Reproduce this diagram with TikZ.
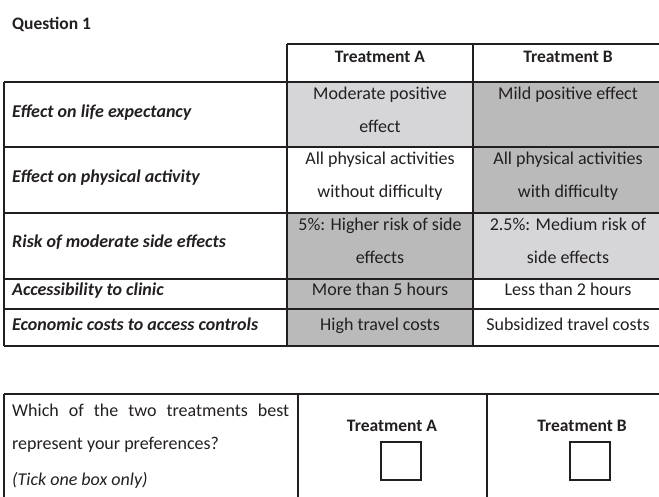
\documentclass[tikz,border=0pt]{standalone}
\usepackage{fontspec}
\setmainfont{Carlito}
\definecolor{lightcell}{RGB}{214,214,216}
\definecolor{darkcell}{RGB}{186,186,187}
\definecolor{ink}{RGB}{35,31,32}
\tikzset{
	grid line/.style={line width=1.3pt, ink},
	celltext/.style={font=\fontsize{18}{33}\selectfont, align=center, inner sep=0pt, anchor=base, text=ink},
	rowlabel/.style={font=\fontsize{18}{21}\selectfont\bfseries\itshape, inner sep=0pt, anchor=base west, text=ink},
	headtext/.style={font=\fontsize{17.5}{21}\selectfont\bfseries, inner sep=0pt, anchor=base, text=ink},
	tickbox/.style={draw=ink, line width=2pt, minimum width=40pt, minimum height=38pt, inner sep=0pt},
}

\begin{document}
\begin{tikzpicture}[x=1pt,y=-1pt]
	\useasboundingbox (0,0) rectangle (659,496);
	\node[headtext, anchor=base west] (title) at (12,29) {Question 1};
	% shaded cells
	\fill[lightcell] (287,82) rectangle (473,147);
	\fill[darkcell] (473,82) rectangle (663,213);
	\fill[darkcell] (287,213) rectangle (473,346);
	\fill[lightcell] (473,213) rectangle (663,279);
	% attribute table
	\draw[grid line] (287,44) -- (663,44);
	\foreach \y in {82,147,213,279,309,346}
		\draw[grid line] (4,\y) -- (663,\y);
	\draw[grid line] (4,82) -- (4,346);
	\foreach \x in {287,473}
		\draw[grid line] (\x,44) -- (\x,346);
	\node[headtext] (headA) at (380,62) {Treatment A};
	\node[headtext] (headB) at (568,62) {Treatment B};
	\foreach \name/\y/\txt in {life/117/Effect on life expectancy,
		activity/182/Effect on physical activity,
		risk/247/Risk of moderate side effects,
		clinic/295/Accessibility to clinic,
		costs/330/Economic costs to access controls}
		\node[rowlabel] (\name) at (12,\y) {\txt};
	% two-line cells sit on the baseline of their last line
	\node[celltext] (a1) at (380,132) {Moderate positive\\effect};
	\node[celltext] (b1) at (568,99) {Mild positive effect};
	\node[celltext] (a2) at (380,197) {All physical activities\\without difficulty};
	\node[celltext] (b2) at (568,197) {All physical activities\\with difficulty};
	\node[celltext] (a3) at (380,263) {5\%: Higher risk of side\\effects};
	\node[celltext] (b3) at (568,263) {2.5\%: Medium risk of\\side effects};
	\node[celltext] (a4) at (380,295) {More than 5 hours};
	\node[celltext] (b4) at (568,295) {Less than 2 hours};
	\node[celltext] (a5) at (380,330) {High travel costs};
	\node[celltext] (b5) at (568,330) {Subsidized travel costs};
	% choice table
	\draw[grid line] (4,394) -- (677,394);
	\foreach \x in {4,298,487}
		\draw[grid line] (\x,394) -- (\x,500);
	\node[celltext, anchor=base west] (q1) at (12,416) {\makebox[277pt][s]{Which of the two treatments best}};
	\node[celltext, anchor=base west] (q2) at (12,449) {represent your preferences?};
	\node[celltext, anchor=base west] (q3) at (12,485) {\itshape (Tick one box only)};
	\node[headtext] (choiceA) at (392,431) {Treatment A};
	\node[headtext] (choiceB) at (582,431) {Treatment B};
	\node[tickbox] (boxA) at (401,461) {};
	\node[tickbox] (boxB) at (590,461) {};
\end{tikzpicture}
\end{document}
